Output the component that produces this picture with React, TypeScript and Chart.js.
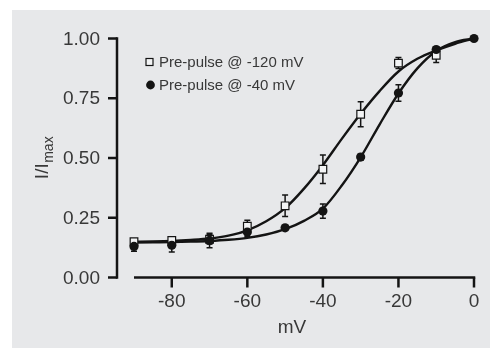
import React, { useEffect, useRef } from 'react';
import { Chart, registerables } from 'chart.js';

Chart.register(...registerables);

// ---- data ----
const voltages = [-90, -80, -70, -60, -50, -40, -30, -20, -10, 0];
const prepulse120 = [0.150, 0.155, 0.160, 0.215, 0.300, 0.453, 0.683, 0.897, 0.930, null];
const prepulse120Err = [0.010, 0.012, 0.020, 0.025, 0.045, 0.060, 0.052, 0.023, 0.030, 0];
const prepulse40 = [0.130, 0.135, 0.155, 0.190, 0.208, 0.278, 0.504, 0.772, 0.954, 1.000];
const prepulse40Err = [0.020, 0.028, 0.030, 0.020, 0.010, 0.030, 0.012, 0.035, 0.012, 0];

const fitVoltages = [-90, -85, -80, -75, -70, -65, -60, -55, -50, -45, -40, -35, -30, -25, -20, -15, -10, -5, 0];
const fit120 = [0.150, 0.151, 0.153, 0.157, 0.163, 0.175, 0.197, 0.235, 0.290, 0.372, 0.470, 0.580, 0.685, 0.780, 0.862, 0.915, 0.950, 0.978, 1.000];
const fit40 = [0.146, 0.147, 0.148, 0.150, 0.153, 0.158, 0.166, 0.180, 0.202, 0.237, 0.288, 0.385, 0.503, 0.640, 0.770, 0.875, 0.948, 0.985, 1.000];

const xTicks = [-80, -60, -40, -20, 0];
const yTicks = [0, 0.25, 0.5, 0.75, 1];
const legendLabels = ['Pre-pulse @ -120 mV', 'Pre-pulse @ -40 mV'];
const xTitle = 'mV';
const yTitleMain = 'I/I';
const yTitleSub = 'max';

const FONT = '"Liberation Sans", Arial, Helvetica, sans-serif';
const TEXT = '#383838';
const INK = '#141414';
const BG = '#e7e8ea';

const bgPlugin = {
  id: 'bgPlugin',
  beforeDraw(chart: any) {
    const { ctx, width, height } = chart;
    ctx.save();
    ctx.fillStyle = '#ffffff';
    ctx.fillRect(0, 0, width, height);
    ctx.fillStyle = BG;
    ctx.fillRect(12, 10, width - 12, height - 10);
    ctx.restore();
  },
};

const axesPlugin = {
  id: 'axesPlugin',
  beforeDatasetsDraw(chart: any) {
    const { ctx } = chart;
    const xs = chart.scales.x;
    const ys = chart.scales.y;
    const axisX = 117;
    const y0 = ys.getPixelForValue(0);
    const y1 = ys.getPixelForValue(1);
    const xa = xs.getPixelForValue(-90);
    const xb = xs.getPixelForValue(0);
    ctx.save();
    ctx.strokeStyle = INK;
    ctx.lineWidth = 2.5;
    ctx.lineCap = 'square';
    ctx.beginPath();
    ctx.moveTo(axisX, y1);
    ctx.lineTo(axisX, y0);
    ctx.stroke();
    ctx.lineCap = 'butt';
    yTicks.forEach((t) => {
      const py = ys.getPixelForValue(t);
      ctx.beginPath();
      ctx.moveTo(axisX, py);
      ctx.lineTo(axisX - 9, py);
      ctx.stroke();
    });
    ctx.beginPath();
    ctx.moveTo(xa, y0);
    ctx.lineTo(xb + 1.25, y0);
    ctx.stroke();
    xTicks.forEach((t) => {
      const px = xs.getPixelForValue(t);
      ctx.beginPath();
      ctx.moveTo(px, y0);
      ctx.lineTo(px, y0 + 10);
      ctx.stroke();
    });
    ctx.fillStyle = TEXT;
    ctx.font = `19px ${FONT}`;
    ctx.textAlign = 'right';
    ctx.textBaseline = 'middle';
    yTicks.forEach((t) => {
      ctx.fillText(t.toFixed(2), 100, ys.getPixelForValue(t) + 1);
    });
    ctx.textAlign = 'center';
    xTicks.forEach((t) => {
      ctx.fillText(String(t), xs.getPixelForValue(t), y0 + 24);
    });
    ctx.fillText(xTitle, 292, 328);
    ctx.save();
    ctx.translate(48, 158);
    ctx.rotate(-Math.PI / 2);
    ctx.textBaseline = 'alphabetic';
    ctx.textAlign = 'left';
    ctx.font = `19px ${FONT}`;
    const w1 = ctx.measureText(yTitleMain).width;
    ctx.font = `14px ${FONT}`;
    const w2 = ctx.measureText(yTitleSub).width;
    const start = -(w1 + w2) / 2;
    ctx.font = `19px ${FONT}`;
    ctx.fillText(yTitleMain, start, 0);
    ctx.font = `14px ${FONT}`;
    ctx.fillText(yTitleSub, start + w1 + 0.5, 5);
    ctx.restore();
    ctx.restore();
  },
};

const errorPlugin = {
  id: 'errorPlugin',
  beforeDatasetsDraw(chart: any) {
    const { ctx } = chart;
    const xs = chart.scales.x;
    const ys = chart.scales.y;
    ctx.save();
    ctx.strokeStyle = INK;
    ctx.lineWidth = 1.5;
    const series: any[] = [
      [prepulse120, prepulse120Err],
      [prepulse40, prepulse40Err],
    ];
    series.forEach(([vals, errs]) => {
      voltages.forEach((v, i) => {
        const e = errs[i];
        if (!e || vals[i] == null) return;
        const px = xs.getPixelForValue(v);
        const top = ys.getPixelForValue(vals[i] + e);
        const bot = ys.getPixelForValue(vals[i] - e);
        ctx.beginPath();
        ctx.moveTo(px, top);
        ctx.lineTo(px, bot);
        ctx.moveTo(px - 3, top);
        ctx.lineTo(px + 3, top);
        ctx.moveTo(px - 3, bot);
        ctx.lineTo(px + 3, bot);
        ctx.stroke();
      });
    });
    ctx.restore();
  },
};

const legendPlugin = {
  id: 'legendPlugin',
  afterDraw(chart: any) {
    const { ctx } = chart;
    ctx.save();
    ctx.fillStyle = '#f3f4f5';
    ctx.strokeStyle = INK;
    ctx.lineWidth = 1.2;
    ctx.fillRect(146, 58.5, 7, 7);
    ctx.strokeRect(146, 58.5, 7, 7);
    ctx.fillStyle = INK;
    ctx.beginPath();
    ctx.arc(150.5, 85, 4.4, 0, Math.PI * 2);
    ctx.fill();
    ctx.fillStyle = TEXT;
    ctx.font = `15px ${FONT}`;
    ctx.textAlign = 'left';
    ctx.textBaseline = 'middle';
    ctx.fillText(legendLabels[0], 159, 62.5);
    ctx.fillText(legendLabels[1], 159, 85.5);
    ctx.restore();
  },
};

export default function App() {
  const ref = useRef<HTMLCanvasElement>(null);
  useEffect(() => {
    document.body.style.margin = '0';
    const chart = new Chart(ref.current as HTMLCanvasElement, {
      type: 'scatter',
      data: {
        datasets: [
          {
            label: legendLabels[1],
            data: voltages.map((x, i) => ({ x, y: prepulse40[i] })),
            pointStyle: 'circle',
            pointRadius: 4.6,
            backgroundColor: INK,
            borderColor: INK,
            borderWidth: 0,
            showLine: false,
            clip: false,
          },
          {
            label: legendLabels[0],
            data: voltages.map((x, i) => ({ x, y: prepulse120[i] })),
            pointStyle: 'rect',
            pointRadius: 5.4,
            backgroundColor: '#f3f4f5',
            borderColor: INK,
            borderWidth: 1.2,
            showLine: false,
            clip: false,
          },
          {
            label: 'fit120',
            data: fitVoltages.map((x, i) => ({ x, y: fit120[i] })),
            showLine: true,
            pointRadius: 0,
            borderColor: INK,
            borderWidth: 2.4,
            cubicInterpolationMode: 'monotone',
            fill: false,
            clip: false,
          },
          {
            label: 'fit40',
            data: fitVoltages.map((x, i) => ({ x, y: fit40[i] })),
            showLine: true,
            pointRadius: 0,
            borderColor: INK,
            borderWidth: 2.4,
            cubicInterpolationMode: 'monotone',
            fill: false,
            clip: false,
          },
        ],
      } as any,
      options: {
        responsive: false,
        animation: false,
        devicePixelRatio: 1,
        layout: { padding: { left: 134, right: 16, top: 38.5, bottom: 70.5 } },
        scales: {
          x: { type: 'linear', min: -90, max: 0, display: false },
          y: { type: 'linear', min: 0, max: 1, display: false },
        },
        plugins: {
          legend: { display: false },
          tooltip: { enabled: false },
        },
      } as any,
      plugins: [bgPlugin, axesPlugin, errorPlugin, legendPlugin],
    });
    return () => chart.destroy();
  }, []);
  return (
    <div style={{ width: 490, height: 348 }}>
      <canvas ref={ref} width={490} height={348} style={{ display: 'block' }} />
    </div>
  );
}
